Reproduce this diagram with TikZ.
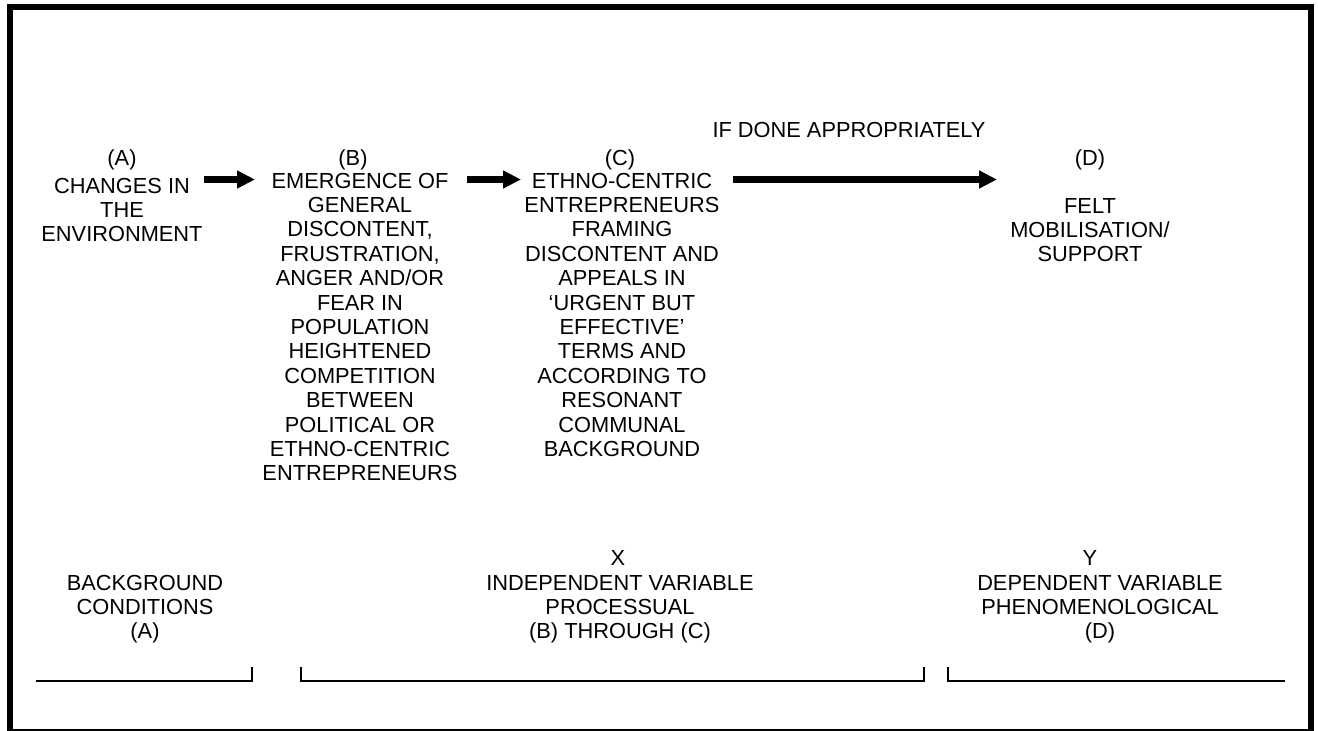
\documentclass[tikz,border=0pt]{standalone}
\usepackage{fontspec}
\setmainfont{Liberation Sans}
\usetikzlibrary{arrows.meta}
\tikzset{
  txt/.style={anchor=base, inner sep=0pt, outer sep=0pt, align=center,
    font=\fontsize{21.8}{24.4}\selectfont},
  flow/.style={line width=6.5pt, -{Triangle[length=18pt,width=17pt]}},
  brk/.style={line width=1.6pt},
}
\begin{document}
\begin{tikzpicture}[x=1pt,y=-1pt]
\useasboundingbox (0,0) rectangle (1318,731);
% frame
\draw[line width=2pt] (10,729.5) -- (1310.5,729.5);
\draw[line width=6pt] (10,732) -- (10,7) -- (1310.5,7) -- (1310.5,732);
% column labels (base anchor = baseline of last line)
\node[txt] (la) at (122,165) {(A)};
\node[txt] (lb) at (353,165) {(B)};
\node[txt] (lc) at (620,165) {(C)};
\node[txt] (ld) at (1090,165) {(D)};
\node[txt] (cond) at (849,137) {IF DONE APPROPRIATELY};
% column texts
\node[txt] (ta) at (122,241.8) {CHANGES IN\\THE\\ENVIRONMENT};
\node[txt] (tb) at (360,480.8) {EMERGENCE OF\\GENERAL\\DISCONTENT,\\FRUSTRATION,\\ANGER AND/OR\\FEAR IN\\POPULATION\\HEIGHTENED\\COMPETITION\\BETWEEN\\POLITICAL OR\\ETHNO-CENTRIC\\ENTREPRENEURS};
\node[txt] (tc) at (622,456.4) {ETHNO-CENTRIC\\ENTREPRENEURS\\FRAMING\\DISCONTENT AND\\APPEALS IN\\‘URGENT BUT\\EFFECTIVE’\\TERMS AND\\ACCORDING TO\\RESONANT\\COMMUNAL\\BACKGROUND};
\node[txt] (td) at (1090,261.8) {FELT\\MOBILISATION/\\SUPPORT};
% arrows
\coordinate (a1s) at (204,179.5); \coordinate (a1e) at (255,179.5);
\coordinate (a2s) at (467,179.5); \coordinate (a2e) at (521,179.5);
\coordinate (a3s) at (733,179.5); \coordinate (a3e) at (997,179.5);
\draw[flow] (a1s) -- (a1e);
\draw[flow] (a2s) -- (a2e);
\draw[flow] (a3s) -- (a3e);
% bottom labels
\node[txt] (bg) at (145,638.8) {BACKGROUND\\CONDITIONS\\(A)};
\node[txt] (xl) at (618,565) {X};
\node[txt] (iv) at (620,638.8) {INDEPENDENT VARIABLE\\PROCESSUAL\\(B) THROUGH (C)};
\node[txt] (yl) at (1090,565) {Y};
\node[txt] (dv) at (1100,638.8) {DEPENDENT VARIABLE\\PHENOMENOLOGICAL\\(D)};
% brackets
\coordinate (b1a) at (36,681); \coordinate (b1b) at (252,681); \coordinate (b1c) at (252,667);
\coordinate (b2a) at (301,667); \coordinate (b2b) at (301,681); \coordinate (b2c) at (924,681); \coordinate (b2d) at (924,667);
\coordinate (b3a) at (948,667); \coordinate (b3b) at (948,681); \coordinate (b3c) at (1285,681);
\draw[brk] (b1a) -- (b1b) -- (b1c);
\draw[brk] (b2a) -- (b2b) -- (b2c) -- (b2d);
\draw[brk] (b3a) -- (b3b) -- (b3c);
\end{tikzpicture}
\end{document}
